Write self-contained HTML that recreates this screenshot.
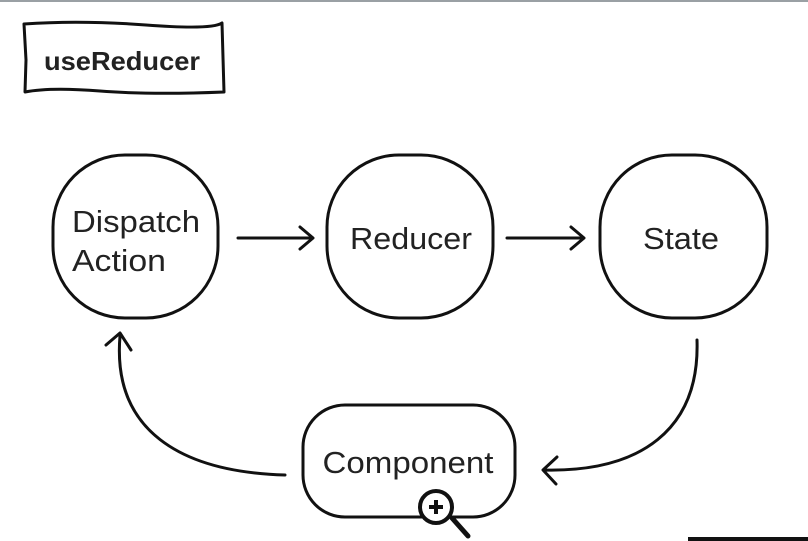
<!DOCTYPE html>
<html><head><meta charset="utf-8"><style>
html,body{margin:0;padding:0;background:#fff;}
svg{display:block;}
text{font-family:"Liberation Sans",sans-serif;fill:#222;}
</style></head><body>
<svg width="808" height="541" viewBox="0 0 808 541" xmlns="http://www.w3.org/2000/svg">
<rect x="0" y="0" width="808" height="2" fill="#9aa0a4"/>
<g fill="none" stroke="#111" stroke-width="3" stroke-linecap="round" stroke-linejoin="round">
<path d="M24,24 Q80,20 146,25 T222,23 L224,92 Q150,95 100,91 T25,92 L26,60 Z"/>
<rect x="53" y="155" width="165" height="163" rx="72"/>
<rect x="327" y="155" width="166" height="163" rx="72"/>
<rect x="600" y="155" width="167" height="163" rx="72"/>
<rect x="303" y="405" width="212" height="112" rx="42"/>
<path d="M238,238 L312,238 M300,227 L313,238 L300,249"/>
<path d="M507,238 L583,238 M571,227 L584,238 L571,249"/>
<path d="M697,340 C700,430 640,472 545,470 M557,457 L543,470 L556,484"/>
<path d="M285,475 C180,472 112,430 120,336 M106,345 L120,333 L131,350"/>
<line x1="452" y1="518" x2="468" y2="536" stroke-width="5"/>
</g>
<circle cx="436" cy="507" r="16" fill="#fff" stroke="#111" stroke-width="4"/>
<path d="M429,507 H443 M436,500 V514" stroke="#111" stroke-width="4"/>
<rect x="688" y="537" width="120" height="4" fill="#111"/>
<text x="44" y="70" font-size="26" font-weight="bold" fill="#111" textLength="156" lengthAdjust="spacingAndGlyphs">useReducer</text>
<text x="72" y="232" font-size="31" textLength="128" lengthAdjust="spacingAndGlyphs">Dispatch</text>
<text x="72" y="271" font-size="31" textLength="94" lengthAdjust="spacingAndGlyphs">Action</text>
<text x="411" y="249" font-size="31" text-anchor="middle" textLength="122" lengthAdjust="spacingAndGlyphs">Reducer</text>
<text x="681" y="249" font-size="31" text-anchor="middle" textLength="76" lengthAdjust="spacingAndGlyphs">State</text>
<text x="408" y="473" font-size="31" text-anchor="middle" textLength="171" lengthAdjust="spacingAndGlyphs">Component</text>
</svg>
</body></html>
